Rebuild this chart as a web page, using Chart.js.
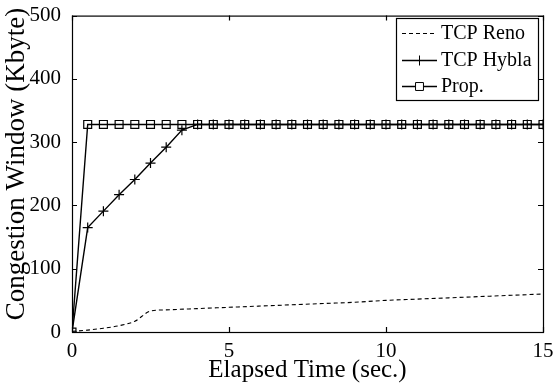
<!DOCTYPE html>
<html>
<head>
<meta charset="utf-8">
<script src="https://cdn.jsdelivr.net/npm/chart.js@4"></script>
<style>
  html, body { margin: 0; padding: 0; background: #fff; }
  #wrap { width: 553px; height: 385px; }
</style>
</head>
<body>
<div id="wrap"><canvas id="cwnd"></canvas></div>
<script>
// data
const renoTime = [0, 0.5, 1, 1.5, 2, 2.5, 3, 4, 5, 6, 7, 8, 9, 10, 11, 12, 13, 14, 15];
const renoCwnd = [1, 3, 6, 10, 17, 33, 35, 37, 39, 41, 43, 45, 47, 50, 52, 54, 56, 58, 60];

const hyblaTime = [0, 0.5, 1, 1.5, 2, 2.5, 3, 3.5, 4, 4.5, 5, 5.5, 6, 6.5, 7, 7.5, 8, 8.5, 9, 9.5, 10, 10.5, 11, 11.5, 12, 12.5, 13, 13.5, 14, 14.5, 15];
const hyblaCwnd = [0, 165, 191, 217, 241, 267, 292, 319, 328, 328, 328, 328, 328, 328, 328, 328, 328, 328, 328, 328, 328, 328, 328, 328, 328, 328, 328, 328, 328, 328, 328];

const propTime = [0, 0.5, 1, 1.5, 2, 2.5, 3, 3.5, 4, 4.5, 5, 5.5, 6, 6.5, 7, 7.5, 8, 8.5, 9, 9.5, 10, 10.5, 11, 11.5, 12, 12.5, 13, 13.5, 14, 14.5, 15];
const propCwnd = [0, 328, 328, 328, 328, 328, 328, 328, 328, 328, 328, 328, 328, 328, 328, 328, 328, 328, 328, 328, 328, 328, 328, 328, 328, 328, 328, 328, 328, 328, 328];

const xTicks = [0, 5, 10, 15];
const yTicks = [0, 100, 200, 300, 400, 500];
const yTitle = 'Congestion Window (Kbyte)';

function pts(xs, ys) {
  return xs.map(function (x, i) { return { x: x, y: ys[i] }; });
}

const serif = "'Liberation Serif', 'Times New Roman', serif";

// box around plot, inward ticks on all sides, matlab style legend, y title
const frame = {
  id: 'frame',
  afterDraw: function (chart) {
    const ctx = chart.ctx;
    const a = chart.chartArea;
    const xs = chart.scales.x, ys = chart.scales.y;
    ctx.save();
    ctx.strokeStyle = '#000';
    ctx.lineWidth = 1.2;
    ctx.strokeRect(a.left + 0.5, a.top + 0.5, a.right - a.left, a.bottom - a.top);
    ctx.beginPath();
    xTicks.forEach(function (v) {
      const px = Math.round(xs.getPixelForValue(v)) + 0.5;
      ctx.moveTo(px, a.bottom); ctx.lineTo(px, a.bottom - 5);
      ctx.moveTo(px, a.top); ctx.lineTo(px, a.top + 5);
    });
    yTicks.forEach(function (v) {
      const py = Math.round(ys.getPixelForValue(v)) + 0.5;
      ctx.moveTo(a.left, py); ctx.lineTo(a.left + 5, py);
      ctx.moveTo(a.right, py); ctx.lineTo(a.right - 5, py);
    });
    ctx.stroke();

    // y axis title
    ctx.save();
    ctx.translate(24, 164);
    ctx.rotate(-Math.PI / 2);
    ctx.fillStyle = '#000';
    ctx.font = '27px ' + serif;
    ctx.textAlign = 'center';
    ctx.textBaseline = 'alphabetic';
    ctx.fillText(yTitle, 0, 0);
    ctx.restore();

    // legend
    const bx = 396, by = 18, bw = 142, bh = 82;
    ctx.fillStyle = '#fff';
    ctx.fillRect(bx, by, bw, bh);
    ctx.lineWidth = 1.2;
    ctx.strokeRect(bx + 0.5, by + 0.5, bw, bh);
    const rows = [33, 60, 86];
    chart.data.datasets.forEach(function (ds, i) {
      const y = rows[i] + 0.5;
      ctx.beginPath();
      ctx.lineWidth = ds.borderWidth;
      ctx.setLineDash(ds.borderDash || []);
      ctx.moveTo(402, y); ctx.lineTo(437, y);
      ctx.stroke();
      ctx.setLineDash([]);
      if (ds.pointRadius > 0) {
        ctx.fillStyle = '#fff';
        ctx.lineWidth = 1;
        Chart.helpers.drawPoint(ctx, {
          pointStyle: ds.pointStyle, radius: ds.pointRadius, borderWidth: 1
        }, 419.5, y);
      }
      ctx.fillStyle = '#000';
      ctx.font = '20px ' + serif;
      ctx.textBaseline = 'middle';
      ctx.textAlign = 'left';
      ctx.fillText(ds.label, 441, rows[i] + 1);
    });
    ctx.restore();
  }
};

new Chart(document.getElementById('cwnd'), {
  type: 'line',
  data: {
    datasets: [
      {
        label: 'TCP Reno',
        data: pts(renoTime, renoCwnd),
        borderColor: '#000',
        borderWidth: 1.1,
        borderDash: [4, 3],
        pointRadius: 0,
        cubicInterpolationMode: 'monotone',
        tension: 0.4
      },
      {
        label: 'TCP Hybla',
        data: pts(hyblaTime, hyblaCwnd),
        borderColor: '#000',
        borderWidth: 1.4,
        pointStyle: 'cross',
        pointRadius: 5,
        pointBorderColor: '#000',
        pointBorderWidth: 1.2,
        tension: 0
      },
      {
        label: 'Prop.',
        data: pts(propTime, propCwnd),
        borderColor: '#000',
        borderWidth: 1.4,
        pointStyle: 'rect',
        pointRadius: 5.6,
        pointBackgroundColor: 'rgba(0,0,0,0)',
        pointBorderColor: '#000',
        pointBorderWidth: 1.2,
        tension: 0
      }
    ]
  },
  plugins: [frame],
  options: {
    responsive: true,
    maintainAspectRatio: false,
    animation: false,
    layout: { padding: { top: 13, right: 10, left: 0, bottom: 0 } },
    plugins: { legend: { display: false }, tooltip: { enabled: false } },
    scales: {
      x: {
        type: 'linear',
        min: 0, max: 15,
        afterBuildTicks: function (s) { s.ticks = xTicks.map(function (v) { return { value: v }; }); },
        afterFit: function (s) { s.height = 53; },
        grid: { display: false },
        border: { display: false },
        ticks: { color: '#000', font: { family: serif, size: 21 }, padding: -1, maxRotation: 0 },
        title: { display: true, text: 'Elapsed Time (sec.)', color: '#000', font: { family: serif, size: 25 }, padding: { top: -8, bottom: 0 } }
      },
      y: {
        min: 0, max: 500,
        afterBuildTicks: function (s) { s.ticks = yTicks.map(function (v) { return { value: v }; }); },
        afterFit: function (s) { s.width = 72; },
        grid: { display: false },
        border: { display: false },
        ticks: { color: '#000', font: { family: serif, size: 21 }, padding: 3 },
        title: { display: false }
      }
    }
  }
});
</script>
</body>
</html>
